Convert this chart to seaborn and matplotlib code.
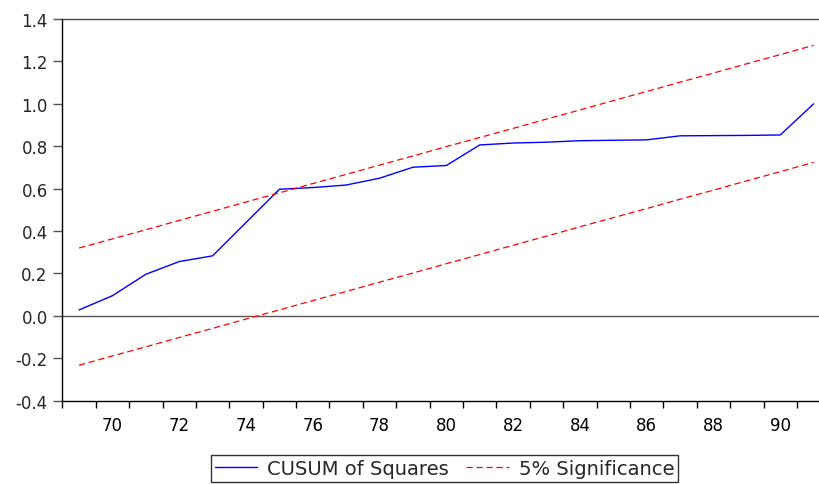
import numpy as np
import pandas as pd
import seaborn as sns
import matplotlib.pyplot as plt
from matplotlib.ticker import MultipleLocator, FixedLocator

##################################### Data #####################################

years = [69, 70, 71, 72, 73, 74, 75, 76, 77, 78, 79, 80,
         81, 82, 83, 84, 85, 86, 87, 88, 89, 90, 91]

cusum_sq = [0.028, 0.095, 0.196, 0.256, 0.283, 0.440, 0.597, 0.605, 0.617, 0.649, 0.701, 0.709,
            0.806, 0.815, 0.819, 0.826, 0.828, 0.830, 0.849, 0.850, 0.851, 0.853, 1.000]

upper_5 = [0.320, 0.363, 0.406, 0.450, 0.493, 0.537, 0.580, 0.624, 0.667, 0.711, 0.754, 0.798,
           0.841, 0.884, 0.928, 0.971, 1.015, 1.058, 1.102, 1.145, 1.189, 1.232, 1.276]

lower_5 = [-0.233, -0.189, -0.146, -0.102, -0.059, -0.015, 0.028, 0.072, 0.115, 0.159, 0.202, 0.246,
           0.289, 0.333, 0.376, 0.420, 0.463, 0.506, 0.550, 0.593, 0.637, 0.680, 0.724]

x_tick_labels = [70, 72, 74, 76, 78, 80, 82, 84, 86, 88, 90]

df = pd.DataFrame({"Year": years, "CUSUM": cusum_sq, "Upper": upper_5, "Lower": lower_5})

##################################### Plot #####################################

sns.set_style("ticks")
plt.rcParams['font.family'] = ['DejaVu Sans']

fig = plt.figure(figsize=(8.19, 4.85), dpi=100)
ax = fig.add_axes([0.0761, 0.1718, 0.9239, 0.787])

# Zero line
ax.axhline(0, color="#555555", linewidth=1.0, zorder=1)

# CUSUM of squares and the 5% bands
sns.lineplot(data=df, x="Year", y="CUSUM", color="#0000FF", linewidth=1.0, ax=ax,
             label="CUSUM of Squares", legend=False)
sns.lineplot(data=df, x="Year", y="Upper", color="#FF0000", linewidth=0.9, ax=ax,
             linestyle=(0, (5, 3)), label="5% Significance", legend=False)
sns.lineplot(data=df, x="Year", y="Lower", color="#FF0000", linewidth=0.9, ax=ax,
             linestyle=(0, (5, 3)), legend=False)

# Axis limits
ax.set_xlim(68.5, 91.16)
ax.set_ylim(-0.4, 1.4)

# Ticks: year boundaries as tick marks, labels on every second year
ax.xaxis.set_major_locator(FixedLocator(x_tick_labels))
ax.set_xticklabels([str(v) for v in x_tick_labels])
ax.xaxis.set_minor_locator(FixedLocator(np.arange(68.5, 92, 1.0)))
ax.tick_params(axis="x", which="major", length=0, pad=11, labelsize=12, colors="black")
ax.tick_params(axis="x", which="minor", length=5, width=1, color="black", direction="out")

ax.yaxis.set_major_locator(MultipleLocator(0.2))
ax.set_yticklabels([f"{v:.1f}" for v in ax.get_yticks()])
ax.tick_params(axis="y", which="major", length=6.5, width=1, color="#555555", labelsize=12, pad=4)

ax.set_xlabel("")
ax.set_ylabel("")

# Spines
ax.spines["right"].set_visible(False)
ax.spines["top"].set_color("#444444")
ax.spines["left"].set_color("black")
ax.spines["bottom"].set_color("black")
for s in ["top", "left", "bottom"]:
    ax.spines[s].set_linewidth(1.0)

# Legend below plot
handles, labels = ax.get_legend_handles_labels()
leg = fig.legend(handles, labels, loc="center", bbox_to_anchor=(0.5427, 0.0322),
                 ncol=2, frameon=True, fancybox=False, fontsize=14,
                 handlelength=2.2, columnspacing=0.9, handletextpad=0.5,
                 borderpad=0.2, borderaxespad=0)
leg.get_frame().set_edgecolor("black")
leg.get_frame().set_linewidth(1.0)

fig.savefig("out.png", dpi=100)
